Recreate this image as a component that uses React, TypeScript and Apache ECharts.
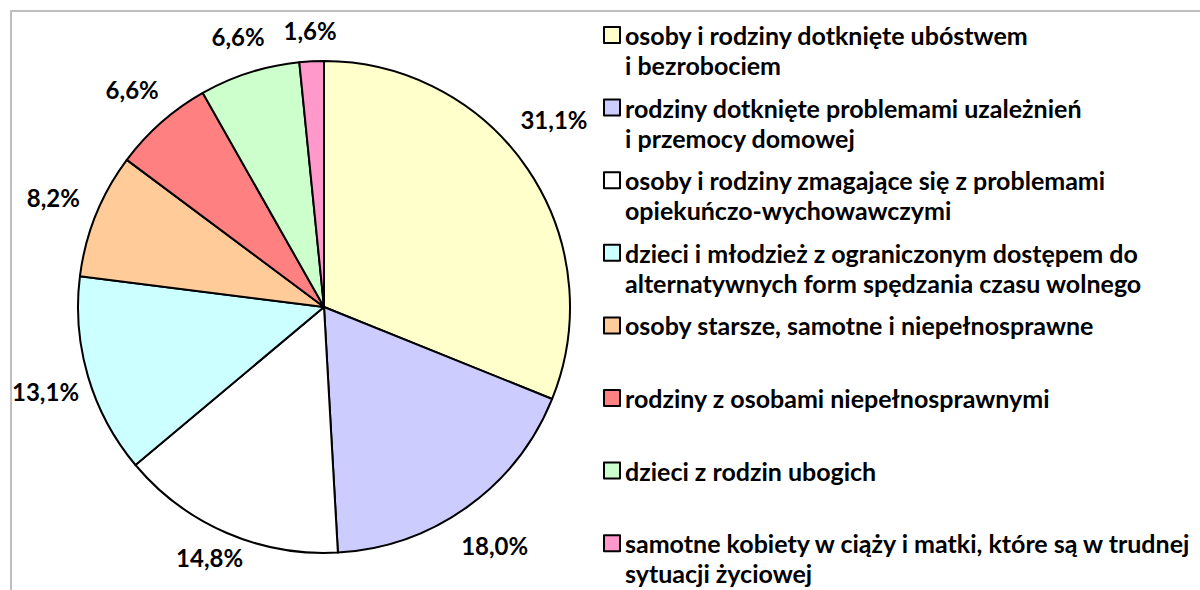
import React, { useEffect, useRef } from "react";
import * as echarts from "echarts";

const categories: string[] = [
  "osoby i rodziny dotknięte ubóstwem\ni bezrobociem",
  "rodziny dotknięte problemami uzależnień\ni przemocy domowej",
  "osoby i rodziny zmagające się z problemami\nopiekuńczo-wychowawczymi",
  "dzieci i młodzież z ograniczonym dostępem do\nalternatywnych form spędzania czasu wolnego",
  "osoby starsze, samotne i niepełnosprawne",
  "rodziny z osobami niepełnosprawnymi",
  "dzieci z rodzin ubogich",
  "samotne kobiety w ciąży i matki, które są w trudnej\nsytuacji życiowej",
];
const shares: number[] = [31.1, 18.0, 14.8, 13.1, 8.2, 6.6, 6.6, 1.6];
const sliceColors: string[] = [
  "#FFFFCC",
  "#CCCCFF",
  "#FFFFFF",
  "#CCFFFF",
  "#FFCC99",
  "#FF8080",
  "#CCFFCC",
  "#FF99CC",
];

const FONT = "Lato";
const CX = 324;
const CY = 307;
const R = 246;
const LABEL_GAP = 16;
const LABEL_LH = 28;
// labels slide around the pie when they hit the legend side; otherwise they are shifted inside the bounds
const PLOT_RIGHT = 588;
const PLOT_BOTTOM = 571;
const CHART_LEFT = 12;
const CHART_TOP = 12;
const LEG_LEFT = 603;
const LEG_FIRST = 35;
const LEG_STEP = 72.6;
const LINE_H = 30;

export default function App() {
  const ref = useRef<HTMLDivElement>(null);
  useEffect(() => {
    if (!ref.current) return;
    const chart = echarts.init(ref.current, null, { renderer: "svg" });
    const total = shares.reduce((a, b) => a + b, 0);
    const cum: number[] = [];
    let acc = 0;
    shares.forEach((v) => {
      cum.push(acc);
      acc += v;
    });

    const placeAt = (th: number, w: number, h: number) => {
      const dx = Math.sin(th);
      const dy = -Math.cos(th);
      const proj = Math.abs(dx) * (w / 2) + Math.abs(dy) * (h / 2);
      const d = R + LABEL_GAP + proj;
      return { x: CX + d * dx, y: CY + d * dy };
    };

    const layoutLabel = (i: number, w: number, h: number) => {
      let th = ((cum[i] + shares[i] / 2) / total) * Math.PI * 2;
      const step = (0.2 * Math.PI) / 180;
      let pos = placeAt(th, w, h);
      for (let k = 0; k < 300; k++) {
        pos = placeAt(th, w, h);
        const deg = (th * 180) / Math.PI;
        if (pos.x + w / 2 > PLOT_RIGHT && deg > 0 && deg < 180) {
          th += deg < 90 ? -step : step;
        } else break;
      }
      let x = pos.x;
      let y = pos.y;
      if (x - w / 2 < CHART_LEFT) x = CHART_LEFT + w / 2;
      if (y - h / 2 < CHART_TOP) y = CHART_TOP + h / 2;
      if (y + h / 2 > PLOT_BOTTOM) y = PLOT_BOTTOM - h / 2;
      return { x, y };
    };

    const legends = categories.map((name, i) => {
      const twoLine = name.indexOf("\n") >= 0;
      const center = LEG_FIRST + i * LEG_STEP;
      return {
        show: true,
        orient: "vertical",
        left: LEG_LEFT,
        top: center - (twoLine ? LINE_H * 1.5 : LINE_H / 2),
        padding: 0,
        itemWidth: 16,
        itemHeight: 16,
        icon: "rect",
        selectedMode: false,
        itemStyle: { borderColor: "#000", borderWidth: 2 },
        formatter: (n: string) => (n.indexOf("\n") >= 0 ? "\n" + n : n),
        textStyle: {
          fontFamily: FONT,
          fontWeight: "bold",
          fontSize: 25,
          color: "#000",
          lineHeight: LINE_H,
        },
        data: [name],
      };
    });

    chart.setOption({
      animation: false,
      color: sliceColors,
      graphic: [
        {
          type: "rect",
          shape: { x: 11, y: 11, width: 1400, height: 900 },
          style: { fill: "none", stroke: "#BFBFBF", lineWidth: 2 },
          silent: true,
        },
      ],
      legend: legends,
      series: [
        {
          type: "pie",
          center: [CX, CY],
          radius: R,
          startAngle: 90,
          clockwise: true,
          avoidLabelOverlap: false,
          itemStyle: { borderColor: "#000", borderWidth: 2 },
          emphasis: { disabled: true },
          label: {
            show: true,
            position: "outside",
            fontFamily: FONT,
            fontWeight: "bold",
            fontSize: 24,
            lineHeight: LABEL_LH,
            color: "#000",
            formatter: (p: any) => p.value.toFixed(1).replace(".", ",") + "%",
          },
          labelLine: { show: false },
          labelLayout: (p: any) => {
            const w = p.labelRect.width;
            const h = p.labelRect.height;
            const pos = layoutLabel(p.dataIndex, w, h);
            return { x: pos.x, y: pos.y, align: "center", verticalAlign: "middle" };
          },
          data: categories.map((name, i) => ({ name, value: shares[i] })),
        },
      ],
    });
    return () => chart.dispose();
  }, []);
  return (
    <div
      ref={ref}
      style={{ position: "absolute", left: 0, top: 0, width: 1200, height: 590, background: "#fff" }}
    />
  );
}
